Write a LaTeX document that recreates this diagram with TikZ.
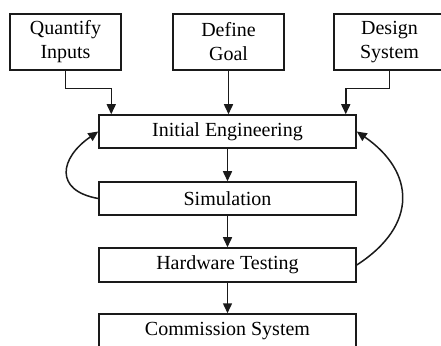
\documentclass[tikz,border=0pt]{standalone}
\usepackage{fontspec}
\setmainfont{Liberation Serif}
\usetikzlibrary{arrows.meta}
\definecolor{linecolor}{HTML}{1A1A1A}
\newcommand{\figwidth}{441pt}
\newcommand{\figheight}{345pt}
\tikzset{
  topbox/.style={draw=linecolor, line width=1.5pt, minimum width=111pt, minimum height=56pt,
    align=center, font=\fontsize{20}{24}\selectfont},
  stagebox/.style={draw=linecolor, line width=1.5pt, minimum width=257pt, minimum height=33pt,
    font=\fontsize{20}{24}\selectfont},
  flow/.style={draw=linecolor, line width=1.5pt, -{Triangle[length=10pt,width=9pt]}}
}
\begin{document}
\begin{tikzpicture}[x=1pt, y=1pt]
  \useasboundingbox[fill=white] (0,0) rectangle (\figwidth, \figheight);

  % === INPUT BOXES ===
  \node[topbox] (quant) at (65.5, 303) {Quantify\\Inputs};
  \node[topbox] (goal) at (228.5, 303) {Define\\Goal};
  \node[topbox] (design) at (389.5, 303) {Design\\System};

  % === STAGES ===
  \node[stagebox] (init) at (227.5, 213.5) {Initial Engineering};
  \node[stagebox] (sim) at (227.5, 146.5) {Simulation};
  \node[stagebox, minimum height=34pt] (hw) at (227.5, 80) {Hardware Testing};
  \node[stagebox, minimum height=34pt] (comm) at (227.5, 14) {Commission System};

  % inputs into the first stage
  \draw[flow] (quant.south) -- ++(0,-18) -| ([xshift=13pt]init.north west);
  \draw[flow] (goal.south) -- (goal.south |- init.north);
  \draw[flow] (design.south) -- ++(0,-18) -| ([xshift=-11pt]init.north east);

  % main chain
  \draw[flow] (init) -- (sim);
  \draw[flow] (sim) -- (hw);
  \draw[flow] (hw) -- (comm);

  % feedback loops
  \draw[flow] (sim.west) .. controls +(-45,8) and +(-38,-26) .. (init.west);
  \draw[flow] (hw.east) .. controls +(62,40) and +(58,-40) .. (init.east);
\end{tikzpicture}
\end{document}
